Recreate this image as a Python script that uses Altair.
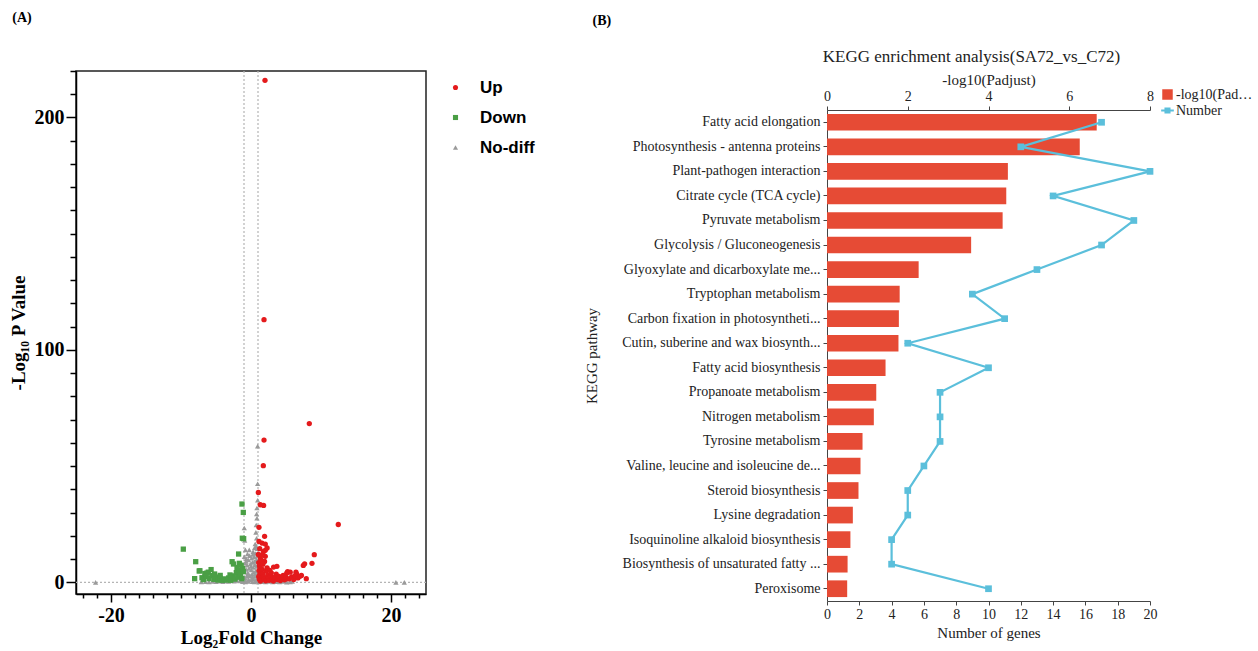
import altair as alt
import pandas as pd

SERIF = "Liberation Serif"
SANS = "Liberation Sans"

# ---------------- Panel A: volcano plot data (log2FC, -log10 P) ----------------
up_points = [
    (2.0, 216), (1.86, 113), (8.33, 68.3), (1.86, 61.2), (1.76, 50.2), (1.05, 38.7),
    (1.33, 33.4), (1.8, 33.1), (12.47, 24.9), (1.14, 23.7), (1.94, 19.8), (1.14, 17.6),
    (1.57, 16.9), (2.04, 16.5), (2.04, 13.8), (1.8, 13.3), (2.3, 14.8), (1.33, 10.5),
    (2.04, 11.2), (9.04, 11.9), (8.71, 8.2), (7.47, 7.3), (7.66, 8.0), (3.23, 6.6),
    (3.7, 6.9), (1.94, 9.0), (5.23, 4.6), (6.42, 4.4), (6.5, 3.6), (5.6, 4.4),
    (5.1, 4.0), (7.9, 1.6), (7.2, 3.0), (1.1, 8.5), (1.2, 7.2), (1.3, 6.0),
    (1.15, 5.1), (1.4, 4.2), (1.25, 3.3), (1.1, 2.5), (1.5, 1.8), (1.2, 1.2),
    (1.35, 0.6), (1.6, 5.6), (1.7, 3.8), (1.8, 2.4), (1.9, 1.3), (2.1, 0.7),
    (2.2, 4.9), (2.4, 3.1), (2.5, 1.9), (2.6, 0.9), (2.8, 2.6), (2.9, 4.1),
    (3.0, 1.4), (3.2, 0.6), (3.4, 2.2), (3.6, 3.5), (3.8, 1.2), (4.0, 2.6),
    (4.2, 0.8), (4.4, 1.9), (4.6, 3.0), (4.8, 1.1), (5.0, 2.2), (5.4, 1.5),
    (5.8, 2.4), (6.1, 1.2), (6.3, 2.8), (6.7, 1.9), (7.0, 2.6), (1.45, 9.6),
    (1.7, 7.8), (2.3, 6.2), (2.7, 5.2), (1.05, 12.0), (1.25, 14.5), (1.55, 11.8),
]
down_points = [
    (-9.67, 14.3), (-7.9, 8.9), (-7.4, 4.9), (-8.05, 1.6), (-5.7, 5.5), (-6.1, 4.4),
    (-6.6, 3.8), (-1.77, 12.2), (-1.29, 33.7), (-1.1, 30.1), (-1.05, 18.8), (-1.24, 19.0),
    (-2.7, 8.9), (-2.5, 7.9), (-1.67, 8.2), (-7.3, 5.0), (-6.3, 4.0), (-7.0, 2.0),
    (-6.8, 1.2), (-6.4, 2.6), (-6.0, 1.6), (-5.6, 2.9), (-5.3, 1.3), (-5.0, 2.3),
    (-4.7, 1.0), (-4.4, 1.8), (-4.1, 0.9), (-3.8, 1.5), (-3.5, 1.0), (-3.2, 1.9),
    (-2.9, 0.9), (-2.6, 2.8), (-2.3, 1.4), (-2.1, 4.2), (-1.9, 2.2), (-1.7, 5.2),
    (-1.5, 3.4), (-1.3, 1.6), (-1.2, 6.0), (-1.1, 4.6), (-1.4, 7.4), (-2.0, 6.4),
    (-3.0, 3.2), (-5.2, 3.6), (-4.4, 3.0),
]
nodiff_points = [
    (0.95, 58.6), (0.95, 42.4), (0.95, 35.3), (0.85, 32.0), (0.8, 29.4), (0.85, 27.6),
    (0.75, 24.7), (-0.96, 23.4), (0.7, 21.5), (0.8, 19.0), (-0.9, 18.0), (-0.8, 14.0),
    (0.6, 16.5), (0.5, 14.8), (0.75, 15.5), (0.3, 13.2), (0.65, 12.4), (-0.2, 11.5),
    (-0.5, 12.2), (0.1, 10.4), (0.45, 10.9), (-0.35, 9.6), (-0.65, 10.2), (0.8, 9.8),
    (0.2, 8.6), (-0.1, 7.9), (0.55, 7.6), (-0.55, 7.4), (-0.85, 8.3), (0.85, 6.9),
    (0.35, 6.4), (-0.3, 6.0), (0.05, 5.3), (-0.7, 5.6), (0.7, 5.0), (0.4, 4.4),
    (-0.45, 4.1), (-0.95, 4.8), (0.95, 3.9), (0.15, 3.5), (-0.15, 2.9), (0.6, 2.6),
    (-0.6, 2.5), (-0.9, 2.0), (0.9, 1.8), (0.3, 1.6), (-0.35, 1.3), (0.0, 0.9),
    (0.7, 0.7), (-0.75, 0.6), (-1.3, 1.1), (1.3, 0.4),
    (-7.1, 0.2), (-6.5, 0.3), (-6.0, 0.2), (-5.5, 0.4), (-5.0, 0.3), (-4.5, 0.5),
    (-4.0, 0.3), (-3.6, 0.6), (-3.2, 0.4), (-2.8, 0.7), (-2.4, 0.5), (-2.0, 0.9),
    (-1.6, 0.6), (-1.2, 0.3), (-0.8, 0.2), (-0.4, 0.4), (0.2, 0.3), (0.5, 0.2),
    (1.1, 0.2), (1.6, 0.3), (2.1, 0.2), (2.6, 0.4), (3.1, 0.2), (3.6, 0.3),
    (4.1, 0.2), (4.6, 0.4), (5.1, 0.1), (5.6, 0.2), (5.9, 0.4),
    (-22.2, 0.0), (20.7, 0.0), (21.9, 0.0),
    (0.9, 14.5), (-0.95, 11.0), (0.25, 12.0), (-0.25, 14.0), (0.9, 11.5), (0.5, 9.0),
    (-0.7, 9.0), (0.0, 6.8), (0.2, 2.2), (-0.5, 3.2), (0.55, 3.4),
]
group_names = ["Up", "Down", "No-diff"]
group_colors = ["#e41a1c", "#4a9f45", "#9a9a9a"]
group_shapes = ["circle", "square", "triangle-up"]
fc_cutoffs = [-1, 1]
p_cutoff = [0]
x_ticks_a = list(range(-24, 25, 2))
y_ticks_a = list(range(0, 221, 10))

# ---------------- Panel B: KEGG enrichment data ----------------
pathways = [
    "Fatty acid elongation", "Photosynthesis - antenna proteins", "Plant-pathogen interaction",
    "Citrate cycle (TCA cycle)", "Pyruvate metabolism", "Glycolysis / Gluconeogenesis",
    "Glyoxylate and dicarboxylate me...", "Tryptophan metabolism",
    "Carbon fixation in photosyntheti...", "Cutin, suberine and wax biosynth...",
    "Fatty acid biosynthesis", "Propanoate metabolism", "Nitrogen metabolism",
    "Tyrosine metabolism", "Valine, leucine and isoleucine de...", "Steroid biosynthesis",
    "Lysine degradation", "Isoquinoline alkaloid biosynthesis",
    "Biosynthesis of unsaturated fatty ...", "Peroxisome",
]
neg_log10_padj = [6.68, 6.26, 4.48, 4.44, 4.35, 3.57, 2.27, 1.80, 1.78, 1.77,
                  1.45, 1.22, 1.16, 0.88, 0.83, 0.78, 0.64, 0.58, 0.51, 0.50]
gene_numbers = [17, 12, 20, 14, 19, 17, 13, 9, 11, 5, 10, 7, 7, 7, 6, 5, 5, 4, 4, 10]
series_names = ["-log10(Padjust)", "Number"]
series_colors = ["#e64b35", "#5bbfdb"]
series_symbols = ["M-0.83,-0.83H0.83V0.83H-0.83Z",
                  "M-1,-0.15H1V0.15H-1Z M-0.48,-0.48H0.48V0.48H-0.48Z"]
padj_ticks = [0, 2, 4, 6, 8]
number_ticks = list(range(0, 21, 2))

# ================= Panel A =================
rows = []
for name, pts in (("No-diff", nodiff_points), ("Down", down_points), ("Up", up_points)):
    for fc, lp in pts:
        rows.append({"log2fc": fc, "neglog10p": lp, "group": name})
volcano_df = pd.DataFrame(rows)

ax_common = dict(labelFont=SERIF, labelFontSize=20, labelFontWeight="bold", labelColor="black",
                 titleFont=SERIF, titleFontSize=19, titleFontWeight="bold", titleColor="black",
                 domainColor="black", domainWidth=1.5, tickColor="black", tickWidth=1.5,
                 grid=False, labelOverlap=False, labelFlush=False)

x_a = alt.X("log2fc:Q", scale=alt.Scale(domain=[-25, 25], nice=False, zero=False),
            axis=alt.Axis(values=x_ticks_a, title="Log₂Fold Change",
                          labelExpr="datum.value % 20 === 0 ? '' + datum.value : ''",
                          tickSize={"condition": {"test": "datum.value % 20 === 0", "value": 8}, "value": 4},
                          labelPadding=3, titlePadding=3, **ax_common))
y_a = alt.Y("neglog10p:Q", scale=alt.Scale(domain=[-5, 220], nice=False, zero=False),
            axis=alt.Axis(values=y_ticks_a, title="-Log₁₀ P Value",
                          labelExpr="datum.value % 100 === 0 ? '' + datum.value : ''",
                          tickSize={"condition": {"test": "datum.value % 100 === 0", "value": 10}, "value": 6},
                          labelPadding=2, titlePadding=6, **ax_common))

leg_a = alt.Legend(title=None, orient="right", offset=11, padding=8, labelFont=SANS,
                   labelFontSize=17, labelFontWeight="bold", labelColor="black",
                   symbolSize=26, labelOffset=16, rowPadding=12)

vrules = alt.Chart(pd.DataFrame({"log2fc": fc_cutoffs})).mark_rule(
    color="#b5b5b5", strokeDash=[2, 2], strokeWidth=1.2).encode(x=x_a)
hrule = alt.Chart(pd.DataFrame({"neglog10p": p_cutoff})).mark_rule(
    color="#b5b5b5", strokeDash=[2, 2], strokeWidth=1.2).encode(y=y_a)
points = alt.Chart(volcano_df).mark_point(filled=True, size=28, opacity=1).encode(
    x=x_a, y=y_a,
    color=alt.Color("group:N", scale=alt.Scale(domain=group_names, range=group_colors), legend=leg_a),
    shape=alt.Shape("group:N", scale=alt.Scale(domain=group_names, range=group_shapes), legend=leg_a),
)

inner_a = alt.layer(vrules, hrule, points).properties(
    width=350, height=523,
    view=alt.ViewBackground(stroke="#222222", strokeWidth=1.5),
)
panel_a = alt.vconcat(inner_a, title=alt.TitleParams(
    "(A)", anchor="start", font=SERIF, fontSize=14, fontWeight="bold", color="black",
    offset=35, dx=4))

# ================= Panel B =================
kegg_df = pd.DataFrame({
    "pathway": pathways, "padj": neg_log10_padj, "number": gene_numbers,
    "idx": list(range(len(pathways))),
})
legend_df = pd.DataFrame({"series": series_names, "pathway": [pathways[0]] * 2, "number": [0, 0]})

axb = dict(labelFont=SERIF, labelFontSize=14, labelColor="#222", titleFont=SERIF,
           titleFontSize=15, titleFontWeight="normal", titleColor="#222",
           domainColor="#444", tickColor="#444", grid=False, labelFlush=False)

# plot area of panel B starts 39 px lower than its view (its top axis sits there)
y_b = alt.Y("pathway:N", sort=pathways,
            scale=alt.Scale(range=[39, 530], paddingInner=0.32, paddingOuter=0.16),
            axis=alt.Axis(title="KEGG pathway", tickSize=4, labelPadding=3, titlePadding=28,
                          labelLimit=300, **axb))
x_padj = alt.X("padj:Q", scale=alt.Scale(domain=[0, 8], nice=False, zero=True),
               axis=alt.Axis(orient="top", offset=-39, values=padj_ticks, title="-log10(Padjust)",
                             tickSize=4, labelPadding=3, titlePadding=2, **axb))
x_num = alt.X("number:Q", scale=alt.Scale(domain=[0, 20], nice=False, zero=True),
              axis=alt.Axis(orient="bottom", values=number_ticks, title="Number of genes",
                            tickSize=4, labelPadding=2, titlePadding=4, **axb))

bars = alt.Chart(kegg_df).mark_bar(color=series_colors[0]).encode(x=x_padj, y=y_b)
line = alt.Chart(kegg_df).mark_line(color=series_colors[1], strokeWidth=2.2).encode(
    x=x_num, y=y_b, order=alt.Order("idx:Q"))
squares = alt.Chart(kegg_df).mark_square(color=series_colors[1], size=45, opacity=1).encode(
    x=x_num, y=y_b)
leg_b = alt.Legend(title=None, orient="none", legendX=333, legendY=16, padding=0,
                   labelFont=SERIF, labelFontSize=14, labelColor="#222", symbolSize=160,
                   labelOffset=1, rowPadding=0, labelLimit=80, symbolOpacity=1)
legend_pts = alt.Chart(legend_df).mark_point(filled=True, opacity=0).encode(
    x=x_num, y=y_b,
    color=alt.Color("series:N", scale=alt.Scale(domain=series_names, range=series_colors), legend=leg_b),
    shape=alt.Shape("series:N", scale=alt.Scale(domain=series_names, range=series_symbols), legend=leg_b),
)

inner_b = alt.layer(bars, alt.layer(line, squares, legend_pts)).resolve_scale(x="independent").properties(
    width=323, height=530,
    title=alt.TitleParams("KEGG enrichment analysis(SA72_vs_C72)", font=SERIF, fontSize=17,
                          fontWeight="normal", color="#222", offset=5, dx=-17, anchor="middle",
                          frame="group"),
)
panel_b = alt.vconcat(inner_b, title=alt.TitleParams(
    "(B)", anchor="start", font=SERIF, fontSize=14, fontWeight="bold", color="black",
    offset=20, dx=9))

chart = alt.hconcat(panel_a, panel_b, spacing=40).resolve_scale(
    color="independent", shape="independent"
).resolve_legend(color="independent", shape="independent").properties(
    padding={"left": 8, "top": 11, "right": 0, "bottom": 0}
).configure(font=SERIF).configure_view(stroke="transparent")

chart.save("out.html", embed_options={"renderer": "svg", "actions": False})
